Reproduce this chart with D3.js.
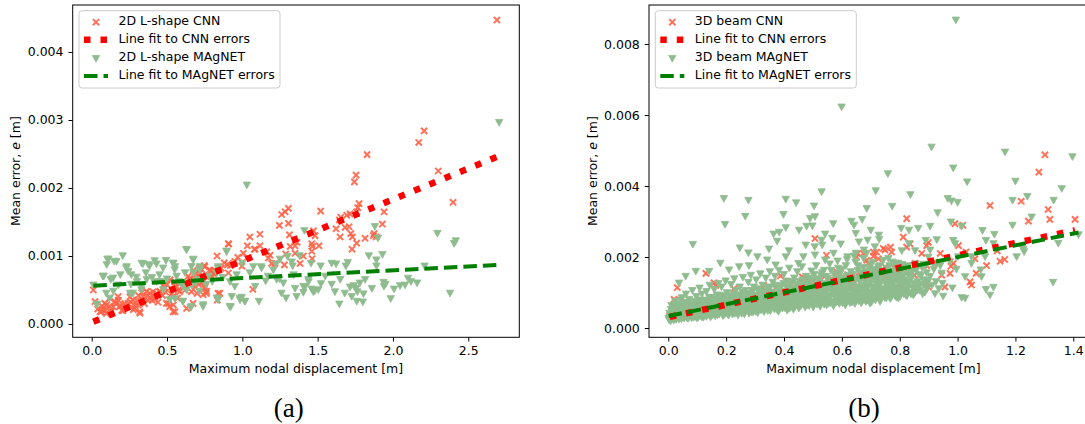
<!DOCTYPE html>
<html><head><meta charset="utf-8">
<script src="https://cdn.jsdelivr.net/npm/d3@7"></script>
<style>
body{margin:0;background:#fff;}
text{font-family:"DejaVu Sans",sans-serif;}
</style></head><body>
<svg id="c" width="1085" height="424"></svg>
<script>
// ---------------- DATA ----------------
// each point: [maximum nodal displacement (m), mean error (mm, i.e. x 1e-3 m)]
const lshapeCNN = [
[0.011,0.50],[0.022,0.33],[0.055,0.18],[0.077,0.21],[0.10,0.28],[0.12,0.38],[0.144,0.25],[0.177,0.35],[0.20,0.20],[0.22,0.30],
[0.254,0.40],[0.277,0.21],[0.30,0.35],[0.32,0.16],[0.332,0.46],[0.365,0.48],[0.387,0.38],[0.42,0.40],[0.453,0.48],[0.476,0.57],
[0.51,0.30],[0.52,0.65],[0.542,0.28],[0.553,0.18],[0.575,0.50],[0.608,0.55],[0.63,0.23],[0.653,0.65],[0.675,0.79],[0.686,0.55],
[0.70,0.45],[0.72,0.75],[0.763,0.48],
[0.064,0.18],[0.097,0.157],[0.086,0.304],[0.119,0.255],[0.153,0.328],[0.175,0.402],[0.186,0.255],[0.208,0.196],[0.241,0.304],
[0.274,0.353],[0.285,0.23],[0.319,0.18],[0.308,0.279],[0.341,0.402],[0.374,0.353],[0.385,0.451],[0.407,0.475],[0.418,0.363],
[0.451,0.475],[0.485,0.525],[0.496,0.304],[0.518,0.255],[0.540,0.18],[0.540,0.402],[0.562,0.549],[0.584,0.475],[0.617,0.598],
[0.651,0.672],[0.662,0.475],[0.673,0.304],[0.695,0.745],[0.717,0.672],[0.750,0.525],[0.761,0.451],[0.750,0.843],[0.783,0.794],
[0.832,1.0],[0.839,0.451],[0.910,1.176],
[0.04,0.22],[0.07,0.26],[0.09,0.20],[0.13,0.19],[0.16,0.30],[0.19,0.27],[0.23,0.25],[0.26,0.32],[0.29,0.27],[0.31,0.42],
[0.35,0.30],[0.37,0.42],[0.40,0.35],[0.43,0.45],[0.44,0.32],[0.47,0.42],[0.49,0.47],[0.50,0.58],[0.53,0.44],[0.55,0.62],
[0.57,0.38],[0.59,0.60],[0.62,0.50],[0.64,0.70],[0.66,0.60],[0.69,0.68],[0.71,0.58],[0.73,0.80],[0.74,0.62],[0.77,0.70],
[0.79,0.78],[0.81,0.74],[0.86,0.82],[0.88,0.90],[0.92,0.86],[0.95,0.92],[0.97,0.98],
[0.907,1.18],[0.90,0.87],[0.94,0.89],[0.85,0.45],[0.834,0.35],[0.748,0.86],[0.715,0.82],[0.754,0.55],[0.74,0.43],[0.907,0.75],
[0.81,0.79],[0.80,0.69],[1.07,0.51],[0.998,0.85],[1.007,1.04],[1.03,0.97],[1.033,1.15],[1.05,1.28],[1.084,1.10],[1.117,1.15],[1.117,1.32],
[2.207,2.84],[2.171,2.67],[1.828,2.49],[2.301,2.25],[1.755,2.19],[1.744,2.09],[2.399,1.79],[1.775,1.77],[1.766,1.71],[1.52,1.66],
[1.306,1.70],[1.284,1.65],[1.261,1.61],[1.246,1.45],[1.306,1.48],[1.715,1.62],[1.693,1.60],[1.759,1.65],[1.941,1.65],[1.653,1.57],
[1.644,1.53],[1.682,1.42],[1.709,1.43],[1.622,1.40],[1.72,1.33],[1.731,1.28],[1.759,1.19],[1.728,1.10],[1.649,1.28],[1.815,1.26],
[1.875,1.33],[1.888,1.28],[1.87,1.30],[1.929,1.47],[1.313,1.31],[1.483,1.30],[1.472,1.37],[1.405,1.0],[1.509,1.15],[1.461,1.18],
[1.465,1.14],[1.461,1.07],[1.463,0.96],[1.350,1.15],[1.363,1.20],[1.318,1.14],[1.08,1.10],[1.184,1.01],[1.162,1.06],[1.195,0.89],
[1.173,0.97],[1.288,1.03],[1.350,1.04],[1.279,0.87],[1.383,0.89],[1.217,0.89],[2.69,4.47]
];
const lshapeMAgNET = [
[2.705,2.96],[2.295,1.33],[2.417,1.22],[2.406,1.18],[2.379,0.45],[2.21,0.85],[2.12,0.62],[2.10,0.67],[2.047,0.56],[2.007,0.51],
[1.985,0.37],[1.937,0.61],[1.94,0.55],[1.93,1.02],[1.89,0.94],[1.89,0.85],[1.84,1.0],[1.88,1.43],[1.90,1.26],[1.86,0.52],
[1.815,0.65],[1.804,0.44],[1.764,0.47],[1.755,0.52],[1.726,0.40],[1.76,0.33],[1.80,0.32],[1.74,0.56],[1.715,0.54],[1.687,0.85],
[1.68,0.45],[1.644,0.29],[1.615,0.47],[1.622,0.88],[1.593,0.89],[1.593,0.58],[1.522,0.59],[1.504,0.50],[1.471,0.47],[1.46,0.51],
[1.438,0.65],[1.405,0.46],[1.416,0.54],[1.456,0.89],[1.412,1.37],[1.36,0.40],[1.328,0.91],[1.334,0.85],[1.30,0.99],[1.29,0.38],
[1.272,0.60],[1.246,0.66],[1.224,0.88],[1.155,0.63],[1.11,0.33],[1.124,0.84],[1.085,0.55],
[0.996,0.39],[1.018,0.33],[0.985,0.35],[0.923,0.25],[0.93,0.40],[1.0,0.89],[0.83,0.38],[0.896,1.06],[0.84,0.84],[0.962,0.72],
[0.74,0.28],[0.657,0.24],[0.715,0.48],[0.675,0.95],[0.63,1.09],[0.542,0.89],[0.553,0.84],[0.493,0.93],[0.43,0.88],[0.376,0.87],
[0.332,0.89],[0.365,0.65],[0.30,0.62],[0.232,0.84],[0.243,0.77],[0.206,1.0],[0.148,0.92],[0.11,0.95],[0.10,0.87],[0.073,0.70],
[0.011,0.57],[0.033,0.29],[0.126,0.65],[0.177,0.57],[0.144,0.48],[0.254,0.45],[0.332,0.55],[0.43,0.62],[0.476,0.50],[0.553,0.37],
[0.604,0.33],[0.63,0.50],[0.664,0.57],[0.564,0.70],[0.62,0.75],[0.675,0.75],[0.708,0.65],[0.774,0.70],[0.719,0.84],[0.83,0.75],
[0.918,0.62],[1.073,0.84],[1.128,0.82],[1.206,0.79],[1.228,0.65],[1.26,0.45],[1.35,0.52],[1.405,0.55],[1.44,0.62],[1.48,0.48],[1.34,0.72],
[0.104,0.951],[0.164,0.917],[0.08,0.70],[0.142,0.672],[0.23,0.82],[0.263,0.72],[0.297,0.686],[0.34,0.882],[0.385,0.853],[0.418,0.926],
[0.474,0.82],[0.54,0.89],[0.551,0.794],[0.629,1.09],[0.673,0.94],[0.662,0.843],[0.894,1.07],[0.839,0.82],[1.030,2.04],[0.035,0.28],
[0.119,0.377],[0.097,0.45],[0.274,0.45],[0.33,0.50],[0.518,0.353],[0.606,0.33],[0.662,0.255],[0.739,0.255],[0.839,0.353],[0.916,0.255],
[0.983,0.377],[1.016,0.33],[0.463,0.623],[0.606,0.549],[0.717,0.794],
[0.19,0.72],[0.26,0.58],[0.36,0.75],[0.40,0.68],[0.45,0.72],[0.50,0.66],[0.58,0.62],[0.69,0.60],[0.76,0.58],[0.80,0.62],
[0.87,0.68],[0.95,0.55],[1.05,0.75],[1.17,0.70],[1.25,0.95],[1.38,1.0],[1.52,0.85],[1.55,0.70],[1.65,0.65],[1.70,0.90],
[1.78,0.60],[1.95,0.58],[2.08,0.57],[2.16,0.60]
];
const beamCNN = [
[0.005,0.35],[0.012,0.45],[0.02,0.81],[0.031,1.14],[0.025,0.40],[0.04,0.52],[0.058,0.69],[0.05,0.38],[0.07,0.48],[0.085,0.62],
[0.1,0.55],[0.13,1.54],[0.158,1.27],[0.129,0.72],[0.15,0.60],[0.164,1.2],[0.18,0.85],[0.2,0.70],[0.227,1.11],[0.22,0.78],
[0.25,0.90],[0.27,0.75],[0.29,1.05],[0.31,0.88],[0.33,1.20],[0.35,0.98],[0.37,1.12],[0.388,1.47],[0.40,1.05],[0.42,1.25],
[0.432,1.30],[0.44,1.10],[0.463,1.44],[0.478,1.35],[0.48,1.18],[0.50,1.30],[0.507,2.52],[0.52,1.22],[0.54,1.45],[0.547,2.05],
[0.56,1.35],[0.57,1.35],[0.582,1.58],[0.588,1.44],[0.6,1.28],[0.61,1.40],[0.616,1.25],[0.62,1.50],[0.63,1.32],[0.651,2.0],
[0.654,2.1],[0.662,1.54],[0.674,2.1],[0.686,1.91],[0.709,2.14],[0.743,2.24],[0.768,2.28],[0.64,1.18],[0.66,1.45],[0.68,1.30],
[0.70,1.55],[0.72,1.40],[0.74,1.62],[0.76,1.48],[0.78,1.70],[0.80,1.58],
[1.302,4.88],[1.281,4.39],[1.112,3.45],[1.22,3.57],[1.313,3.34],[1.319,3.06],[1.406,3.06],[1.245,3.01],[0.824,3.08],[0.991,2.94],
[1.018,2.89],[0.812,2.56],[0.824,2.28],[0.836,2.37],[0.899,2.41],[0.893,2.32],[0.749,2.2],[0.772,2.14],[0.72,2.14],[0.709,2.02],
[0.726,1.95],[0.876,2.1],[0.94,2.1],[1.003,2.32],[1.06,1.95],[1.1,1.76],[1.147,1.88],[1.163,1.93],[1.137,2.17],[1.029,2.14],
[0.977,1.74],[0.945,1.49],[0.974,1.54],[0.899,1.16],[0.893,1.27],[0.956,1.16],[1.043,1.3],[1.048,1.21],[1.064,1.54],[0.85,1.49],
[0.801,1.16],[0.804,1.44],[0.772,1.54],[0.76,1.44],[0.726,1.54],[0.824,1.72],[0.749,1.72],[0.789,1.82],[0.853,1.82],[0.691,1.82],
[0.686,1.54],[0.893,1.76],[0.922,1.86],[0.985,1.82]
];
const beamMAgNET = [
// scattered points above and to the right of the main cloud
[0.994,8.67],[0.599,6.22],[0.91,5.09],[1.164,4.95],[1.397,4.82],[0.985,4.50],[0.759,4.34],[1.033,4.11],[1.20,4.13],[1.36,3.92],
[0.717,3.86],[0.53,3.83],[0.837,3.75],[0.192,3.64],[0.277,3.59],[0.406,3.62],[0.442,3.52],[0.504,3.43],[0.686,3.36],[0.774,3.42],
[1.19,3.59],[1.241,3.70],[0.966,3.64],[0.979,3.57],[1.0,3.53],[1.332,3.59],[0.266,3.14],[0.196,2.91],[0.398,3.19],[0.507,3.13],
[0.49,3.08],[0.931,3.24],[1.256,3.12],[0.406,2.82],[0.383,2.69],[0.478,2.86],[0.498,2.87],[0.452,2.75],[0.57,2.93],[0.633,3.0],
[0.642,2.89],[0.67,3.05],[0.648,2.66],[0.542,2.64],[0.53,2.47],[0.364,2.64],[0.376,2.44],[0.085,2.35],[0.247,2.25],[0.277,2.11],
[0.348,2.22],[0.417,2.17],[0.475,2.33],[0.506,2.28],[0.532,2.33],[0.567,2.52],[0.596,2.36],[0.659,2.42],[0.977,2.98],[1.014,2.86],
[1.086,2.74],[1.127,2.63],[1.19,2.89],[0.70,2.75],[0.728,2.61],[0.729,2.49],[0.805,2.80],[0.832,2.75],[0.864,2.80],[0.905,2.86],
[0.689,2.47],[1.227,2.21],[1.23,2.14],[1.348,2.38],[0.89,2.46],[0.928,2.48],[0.985,2.46],[0.991,2.37],[1.098,2.46],[1.124,2.37],
[1.33,1.28],[1.124,1.14],[1.112,0.92],[1.098,1.08],[1.026,0.83],[1.014,0.85],[0.982,1.12],[0.95,0.89],[0.922,0.96],[0.888,1.34],
[0.864,1.15],[0.847,0.92],[0.818,1.02],[0.795,0.83],[0.778,1.02],[0.749,0.88],[0.732,0.74],[0.714,0.88],[0.697,0.69],[0.68,0.79],
[0.945,1.54],[0.996,1.65],[1.048,1.81],[1.08,1.63],[1.083,1.44],[1.026,1.44],[0.974,1.86],[0.922,1.72],[0.882,1.79],[0.899,1.99],
[0.841,1.54],[0.795,1.63],[0.761,1.54],[0.778,1.82],[0.726,1.72],[0.761,1.95],[0.807,2.17],[0.853,2.17],[0.905,2.19],[0.832,2.37],
[0.686,2.10],[0.714,2.28],[0.703,1.63],[1.048,2.00],[1.002,2.00],[1.095,2.0],[1.204,2.0],[1.418,2.62],
[0.18,1.82],[0.21,1.63],[0.279,1.75],[0.308,2.0],[0.342,1.91],[0.371,1.77],[0.406,2.0],[0.45,1.81],[0.467,2.0],[0.507,2.05],
[0.542,1.91],[0.571,2.1],[0.619,2.0],[0.648,2.1],[0.676,2.19],[0.06,1.45],[0.095,1.59],[0.141,1.59],[0.037,1.26],[0.245,1.72],
// dense cloud
[0.003,0.22],[0.006,0.30],[0.004,0.41],[0.009,0.52],[0.012,0.25],[0.015,0.36],[0.011,0.63],[0.018,0.47],[0.021,0.28],[0.024,0.74],[0.019,0.21],
[0.028,0.33],[0.031,0.55],[0.034,0.42],[0.037,0.24],[0.041,0.66],[0.044,0.31],[0.047,0.85],[0.049,0.48],[0.052,0.38],[0.055,0.27],[0.053,0.72],
[0.058,0.58],[0.061,0.95],[0.064,0.34],[0.067,0.45],[0.069,0.26],[0.072,0.80],[0.075,0.52],[0.078,0.39],[0.081,0.66],[0.083,1.05],[0.086,0.29],[0.088,0.47],
[0.091,0.58],[0.094,0.36],[0.097,0.88],[0.099,0.27],[0.102,0.71],[0.105,0.44],[0.108,1.12],[0.111,0.52],[0.113,0.33],[0.116,0.95],[0.118,0.62],
[0.121,0.29],[0.124,0.41],[0.127,0.78],[0.129,0.55],[0.132,1.02],[0.135,0.35],[0.138,0.66],[0.141,0.48],[0.143,1.20],[0.146,0.30],[0.148,0.86],
[0.151,0.58],[0.154,0.42],[0.157,0.72],[0.159,1.08],[0.162,0.33],[0.165,0.50],[0.168,0.92],[0.171,0.64],[0.173,1.25],[0.176,0.38],[0.178,0.79],
[0.181,0.47],[0.184,1.15],[0.187,0.56],[0.189,0.34],[0.192,0.85],[0.195,0.68],[0.198,1.32],[0.201,0.42],[0.203,0.99],[0.206,0.60],[0.208,0.35],
[0.211,0.76],[0.214,0.50],[0.217,1.22],[0.219,0.90],[0.222,0.38],[0.225,0.64],[0.228,1.38],[0.231,0.55],[0.233,1.05],[0.236,0.44],[0.238,0.82],
[0.241,0.36],[0.244,0.70],[0.247,1.15],[0.249,0.58],[0.252,0.93],[0.255,0.47],[0.258,1.42],[0.261,0.78],[0.263,0.39],[0.266,1.05],[0.268,0.62],
[0.271,0.86],[0.274,0.52],[0.277,1.28],[0.279,0.41],[0.282,0.72],[0.285,1.48],[0.288,0.98],[0.291,0.60],[0.293,0.44],[0.296,1.15],[0.298,0.80],
[0.301,0.55],[0.304,1.35],[0.307,0.68],[0.309,0.42],[0.312,1.02],[0.315,0.88],[0.318,1.52],[0.321,0.50],[0.323,0.75],[0.326,1.20],[0.328,0.62],
[0.331,0.45],[0.334,0.95],[0.337,1.40],[0.339,0.70],[0.342,0.56],[0.345,1.12],[0.348,0.84],[0.351,1.58],[0.353,0.48],[0.356,1.00],[0.358,0.66],
[0.361,1.28],[0.364,0.78],[0.367,0.52],[0.369,1.45],[0.372,0.92],[0.375,0.62],[0.378,1.08],[0.381,0.46],[0.383,1.62],[0.386,0.85],[0.388,0.71],
[0.391,1.18],[0.394,0.55],[0.397,0.98],[0.399,1.50],[0.402,0.66],[0.405,0.80],[0.408,1.32],[0.411,0.49],[0.413,1.08],[0.416,0.92],[0.418,1.68],
[0.421,0.60],[0.424,1.22],[0.427,0.75],[0.429,1.02],[0.432,0.52],[0.435,1.40],[0.438,0.88],[0.441,1.12],[0.443,0.66],[0.446,1.58],[0.448,0.95],
[0.451,0.55],[0.454,1.30],[0.457,0.78],[0.459,1.05],[0.462,1.72],[0.465,0.68],[0.468,1.18],[0.471,0.90],[0.473,0.58],[0.476,1.45],[0.478,1.00],
[0.481,0.72],[0.484,1.25],[0.487,0.62],[0.489,1.10],[0.492,0.85],[0.495,1.60],[0.498,0.96],[0.501,0.58],[0.503,1.35],[0.506,0.78],[0.508,1.15],
[0.511,1.75],[0.514,0.66],[0.517,1.02],[0.519,0.88],[0.522,1.28],[0.525,0.60],[0.528,1.48],[0.531,0.95],[0.533,1.12],[0.536,0.74],[0.538,1.62],
[0.541,0.84],[0.544,1.22],[0.547,0.64],[0.549,1.05],[0.552,1.40],[0.555,0.92],[0.558,1.80],[0.561,0.70],[0.563,1.15],[0.566,1.30],[0.568,0.98],
[0.571,0.62],[0.574,1.52],[0.577,1.08],[0.579,0.82],[0.582,1.25],[0.585,1.88],[0.588,0.95],[0.591,0.68],[0.593,1.38],[0.596,1.12],[0.598,0.86],
[0.601,1.65],[0.604,0.75],[0.607,1.20],[0.609,1.00],[0.612,0.64],[0.615,1.45],[0.618,1.92],[0.621,0.90],[0.623,1.30],[0.626,1.10],[0.628,0.70],
[0.631,1.58],[0.634,0.82],[0.637,1.22],[0.639,1.02],[0.642,2.02],[0.645,0.68],[0.648,1.40],[0.651,0.94],[0.653,1.15],[0.656,1.75],[0.658,0.76],
[0.661,1.30],[0.664,1.05],[0.667,0.70],[0.669,1.55],[0.672,0.88],[0.675,1.95],[0.678,1.20],[0.681,0.98],[0.683,0.74],[0.686,1.42],[0.688,1.12],
[0.691,0.84],[0.694,1.68],[0.697,1.00],[0.699,1.28],[0.702,0.72],[0.705,1.85],[0.708,1.15],[0.711,0.92],[0.713,1.48],[0.716,0.78],[0.718,1.08],
[0.721,1.35],[0.724,0.86],[0.727,1.62],[0.729,1.20],[0.732,0.98],[0.735,0.80],[0.738,1.45],[0.741,1.10],[0.743,1.90],[0.746,0.90],[0.748,1.28],
[0.751,1.05],[0.754,0.84],[0.757,1.55],[0.759,1.22],[0.762,0.95],[0.765,1.75],[0.768,1.38],[0.771,0.86],[0.773,1.12],[0.776,1.60],[0.778,1.00],
[0.781,1.30],[0.784,0.90],[0.787,1.48],[0.789,1.15],[0.792,0.98],[0.795,1.82],[0.798,1.25],[0.801,0.88],[0.803,1.40],[0.806,1.05],[0.808,1.65],
[0.811,1.20],[0.814,0.95],[0.817,1.35],[0.819,1.70],[0.822,1.08],[0.825,0.90],[0.828,1.52],[0.831,1.25],[0.833,1.00],
[0.841,1.40],[0.846,1.12],[0.852,0.98],[0.857,1.62],[0.862,1.30],[0.868,1.05],[0.874,1.48],[0.879,0.95],[0.884,1.20],[0.89,1.75],[0.895,1.10],
// dense core near the fitted line
[0.001,0.27],[0.007,0.36],[0.013,0.45],[0.016,0.56],[0.008,0.19],[0.023,0.34],[0.026,0.52],[0.027,0.23],[0.02,0.64],
[0.033,0.29],[0.036,0.46],[0.039,0.60],[0.042,0.37],[0.045,0.25],[0.048,0.55],[0.051,0.30],[0.054,0.44],[0.057,0.64],[0.043,0.78],
[0.062,0.39],[0.065,0.27],[0.068,0.56],[0.071,0.33],[0.074,0.69],[0.077,0.45],[0.080,0.28],[0.084,0.58],[0.087,0.38],[0.089,0.75],
[0.092,0.31],[0.095,0.48],[0.098,0.64],[0.101,0.40],[0.104,0.30],[0.107,0.58],[0.110,0.78],[0.112,0.42],[0.115,0.31],[0.119,0.50],[0.117,0.70],
[0.122,0.36],[0.125,0.60],[0.128,0.46],[0.131,0.32],[0.134,0.72],[0.137,0.52],[0.140,0.40],[0.142,0.85],[0.145,0.62],[0.149,0.45],
[0.152,0.35],[0.155,0.66],[0.158,0.52],[0.161,0.81],[0.164,0.42],[0.167,0.60],[0.170,0.36],[0.172,0.72],[0.175,0.50],[0.179,0.92],
[0.182,0.62],[0.185,0.40],[0.188,0.75],[0.191,0.52],[0.194,0.37],[0.197,0.90],[0.200,0.58],[0.202,0.46],[0.205,0.78],[0.209,0.66],
[0.212,0.42],[0.215,0.86],[0.218,0.60],[0.221,0.72],[0.224,0.48],[0.227,0.95],[0.230,0.40],[0.232,0.66],[0.235,0.82],[0.239,0.54],
[0.242,0.45],[0.245,0.88],[0.248,0.64],[0.251,0.75],[0.254,0.40],[0.257,1.00],[0.260,0.55],[0.262,0.70],[0.265,0.85],[0.269,0.48],
[0.272,0.62],[0.275,0.95],[0.278,0.76],[0.281,0.50],[0.284,0.88],[0.287,0.44],[0.290,1.05],[0.292,0.68],[0.295,0.55],[0.299,0.92],
[0.302,0.46],[0.305,0.80],[0.308,1.10],[0.311,0.60],[0.314,0.72],[0.317,0.95],[0.320,0.52],[0.322,0.86],[0.325,1.02],[0.329,0.70],
[0.332,0.58],[0.335,0.82],[0.338,1.05],[0.341,0.64],[0.344,0.48],[0.347,0.96],[0.350,0.74],[0.352,1.15],[0.355,0.56],[0.359,0.88],
[0.362,0.68],[0.365,1.00],[0.368,0.58],[0.371,1.20],[0.374,0.80],[0.377,0.50],[0.380,0.95],[0.382,0.70],[0.385,1.10],[0.389,0.60],
[0.392,0.88],[0.395,0.72],[0.398,1.25],[0.401,0.56],[0.404,1.02],[0.407,0.64],[0.410,0.90],[0.412,1.15],[0.415,0.76],[0.419,0.54],
[0.422,0.95],[0.425,0.68],[0.428,1.30],[0.431,0.84],[0.434,1.08],[0.437,0.58],[0.440,0.98],[0.442,0.76],[0.445,1.22],[0.449,0.64],
[0.452,0.90],[0.455,1.12],[0.458,0.62],[0.461,0.82],[0.464,1.35],[0.467,0.95],[0.470,0.72],[0.472,1.08],[0.475,0.85],[0.479,1.25],
[0.482,0.64],[0.485,0.92],[0.488,1.40],[0.491,0.78],[0.494,1.02],[0.497,1.20],[0.500,0.68],[0.502,0.88],[0.505,1.50],[0.509,1.05],
[0.512,0.76],[0.515,1.18],[0.518,1.38],[0.521,0.70],[0.524,0.95],[0.527,1.08],[0.530,0.82],[0.532,1.55],[0.535,1.25],[0.539,0.66],
[0.542,1.00],[0.545,1.45],[0.548,0.78],[0.551,1.15],[0.554,0.68],[0.557,1.32],[0.560,0.88],[0.562,1.62],[0.565,1.05],[0.569,0.75],
[0.572,1.20],[0.575,0.90],[0.578,1.42],[0.581,0.72],[0.584,1.02],[0.587,1.68],[0.590,0.80],[0.592,1.30],[0.595,1.55],[0.599,0.95],
[0.602,0.70],[0.605,1.35],[0.608,1.10],[0.611,0.85],[0.614,1.75],[0.617,1.05],[0.620,0.76],[0.622,1.48],[0.625,1.22],[0.629,0.92],
[0.632,1.12],[0.635,0.72],[0.638,1.50],[0.641,0.90],[0.644,1.30],[0.647,1.85],[0.650,0.80],[0.652,1.05],[0.655,1.62],[0.659,0.96],
[0.662,0.82],[0.665,1.40],[0.668,1.15],[0.671,0.76],[0.674,1.70],[0.677,1.02],[0.680,1.30],[0.682,0.88],[0.685,1.58],[0.689,0.78],
[0.692,1.20],[0.695,0.95],[0.698,1.45],[0.701,1.78],[0.704,0.82],[0.707,1.35],[0.710,1.05],[0.712,1.65],[0.715,0.86],[0.719,1.25],
[0.722,0.95],[0.725,1.50],[0.728,1.08],[0.731,1.75],[0.734,0.88],[0.737,1.30],[0.740,1.58],[0.742,1.00],[0.745,1.40],[0.749,0.84],
[0.752,1.30],[0.755,1.68],[0.758,0.92],[0.761,1.45],[0.764,1.10],[0.767,0.82],[0.770,1.55],[0.772,1.25],[0.775,1.85],[0.779,0.96],
[0.782,1.12],[0.785,1.60],[0.788,0.86],[0.791,1.35],[0.794,1.72],[0.797,1.05],[0.800,1.50],[0.802,0.95],[0.805,1.28],[0.809,1.78],
[0.812,1.45],[0.815,1.08],[0.818,1.60],[0.821,0.92],[0.824,1.30],[0.827,1.75],[0.830,1.15],[0.836,1.45],[0.839,0.95],
[0.844,1.62],[0.849,1.25],[0.855,1.80],[0.86,1.05],[0.866,1.50],[0.871,1.22],[0.877,1.70],[0.882,1.35],[0.887,1.00],[0.893,1.55],[0.898,1.30],
[0.905,1.45],[0.912,1.20],[0.918,1.65],[0.925,1.30],[0.935,1.10],[0.94,1.75],[0.948,1.25]
];
// linear fits: [slope (mm per m), intercept (mm)]
const lshapeFitCNN = [0.905, 0.023];
const lshapeFitMAgNET = [0.113, 0.563];
const beamFitCNN = [1.74, 0.306];
const beamFitMAgNET = [1.66, 0.337];
// tick values
const lshapeXTicks = [0, 0.5, 1.0, 1.5, 2.0, 2.5];
const lshapeYTicks = [0, 0.001, 0.002, 0.003, 0.004];
const beamXTicks = [0, 0.2, 0.4, 0.6, 0.8, 1.0, 1.2, 1.4];
const beamYTicks = [0, 0.002, 0.004, 0.006, 0.008];
// legend labels
const lshapeLabels = ["2D L-shape CNN", "Line fit to CNN errors", "2D L-shape MAgNET", "Line fit to MAgNET errors"];
const beamLabels = ["3D beam CNN", "Line fit to CNN errors", "3D beam MAgNET", "Line fit to MAgNET errors"];
const captions = ["(a)", "(b)"];

// ---------------- DRAWING ----------------
const FS = 12.5;
const svg = d3.select("#c");
svg.append("rect").attr("width", 1085).attr("height", 424).attr("fill", "#fff");

const CNN_COLOR = "#ff6347", MAG_COLOR = "#8fbc8f";
const xPath = "M-3.1,-3.1L3.1,3.1M-3.1,3.1L3.1,-3.1";
const vPath = "M-3.7,-3.2L3.7,-3.2L0,3.5Z";

function panel(cfg) {
  const g = svg.append("g");
  const x = d3.scaleLinear().domain(cfg.xDomain).range([cfg.left, cfg.right]);
  const y = d3.scaleLinear().domain(cfg.yDomain).range([cfg.bottom, cfg.top]);
  const clipId = "clip" + cfg.id;
  svg.append("clipPath").attr("id", clipId).append("rect")
    .attr("x", cfg.left).attr("y", cfg.top).attr("width", cfg.right - cfg.left).attr("height", cfg.bottom - cfg.top);
  const plot = g.append("g").attr("clip-path", `url(#${clipId})`);

  plot.append("g").selectAll("path").data(cfg.cnn).join("path")
    .attr("d", xPath).attr("transform", d => `translate(${x(d[0])},${y(d[1] / 1000)})`)
    .attr("fill", "none").attr("stroke", CNN_COLOR).attr("stroke-width", 2).attr("stroke-opacity", 0.9);
  plot.append("g").selectAll("path").data(cfg.mag).join("path")
    .attr("d", vPath).attr("transform", d => `translate(${x(d[0])},${y(d[1] / 1000)})`)
    .attr("fill", MAG_COLOR).attr("stroke", MAG_COLOR).attr("stroke-width", 0.8);

  const fitLine = (fit, data) => {
    const ext = d3.extent(data, d => d[0]);
    return ext.map(v => [v, (fit[0] * v + fit[1]) / 1000]);
  };
  const line = d3.line().x(d => x(d[0])).y(d => y(d[1]));
  plot.append("path").datum(fitLine(cfg.fitCNN, cfg.cnn)).attr("d", line)
    .attr("fill", "none").attr("stroke", "#ff0000").attr("stroke-width", 6.5).attr("stroke-dasharray", "6.5 10");
  plot.append("path").datum(fitLine(cfg.fitMAG, cfg.mag)).attr("d", line)
    .attr("fill", "none").attr("stroke", "#008000").attr("stroke-width", 4).attr("stroke-dasharray", "13.5 6");

  // frame
  g.append("rect").attr("x", cfg.left).attr("y", cfg.top).attr("width", cfg.right - cfg.left).attr("height", cfg.bottom - cfg.top)
    .attr("fill", "none").attr("stroke", "#000").attr("stroke-width", 1);

  // axes
  const xa = g.append("g").attr("transform", `translate(0,${cfg.bottom})`)
    .call(d3.axisBottom(x).tickValues(cfg.xTicks).tickFormat(d3.format(".1f")).tickSize(4.2).tickPadding(4.3));
  const ya = g.append("g").attr("transform", `translate(${cfg.left},0)`)
    .call(d3.axisLeft(y).tickValues(cfg.yTicks).tickFormat(d3.format(".3f")).tickSize(4.2).tickPadding(5));
  [xa, ya].forEach(a => {
    a.select(".domain").remove();
    a.attr("font-family", null).attr("font-size", null);
    a.selectAll("text").attr("font-size", FS).attr("fill", "#000").style("font-family", "DejaVu Sans");
    a.selectAll("line").attr("stroke", "#000").attr("stroke-width", 1);
  });

  g.append("text").attr("x", (cfg.left + cfg.right) / 2).attr("y", 372.8).attr("text-anchor", "middle")
    .attr("font-size", FS).text("Maximum nodal displacement [m]");
  const yl = g.append("text").attr("transform", `translate(${cfg.ylabelX},${(cfg.top + cfg.bottom) / 2}) rotate(-90)`)
    .attr("text-anchor", "middle").attr("font-size", FS);
  yl.append("tspan").text("Mean error, ");
  yl.append("tspan").attr("font-style", "italic").text("e");
  yl.append("tspan").text(" [m]");

  // legend
  const lx = cfg.left + 6.3, ly = cfg.top + 5.7;
  const lg = g.append("g");
  lg.append("rect").attr("x", lx).attr("y", ly).attr("width", 201).attr("height", 77.3).attr("rx", 3)
    .attr("fill", "#fff").attr("fill-opacity", 0.8).attr("stroke", "#cccccc").attr("stroke-width", 1);
  const items = lg.selectAll("g.item").data(cfg.labels).join("g").attr("class", "item")
    .attr("transform", (d, i) => `translate(0,${ly + 14.4 + i * 18.1})`);
  items.append("text").attr("x", lx + 39.5).attr("y", 0).attr("font-size", FS).text(d => d);
  const hx0 = lx + 5, hx1 = lx + 29, hy = -3.5;
  items.each(function (d, i) {
    const s = d3.select(this);
    if (i === 0) s.append("path").attr("d", xPath).attr("transform", `translate(${(hx0 + hx1) / 2},${hy + 0.6})`)
      .attr("fill", "none").attr("stroke", CNN_COLOR).attr("stroke-width", 2).attr("stroke-opacity", 0.9);
    if (i === 1) s.append("line").attr("x1", hx0).attr("x2", hx1).attr("y1", hy).attr("y2", hy)
      .attr("stroke", "#ff0000").attr("stroke-width", 6.5).attr("stroke-dasharray", "6.5 10");
    if (i === 2) s.append("path").attr("d", vPath).attr("transform", `translate(${(hx0 + hx1) / 2},${hy + 0.8})`)
      .attr("fill", MAG_COLOR).attr("stroke", MAG_COLOR).attr("stroke-width", 0.8);
    if (i === 3) s.append("line").attr("x1", hx0).attr("x2", hx1).attr("y1", hy).attr("y2", hy)
      .attr("stroke", "#008000").attr("stroke-width", 4).attr("stroke-dasharray", "13.5 6");
  });

  svg.append("text").attr("x", cfg.capX).attr("y", 417).attr("text-anchor", "middle")
    .style("font-family", "'Liberation Serif', serif").attr("font-size", 27).text(cfg.caption);
}

panel({
  id: "a", left: 72.7, right: 519.3, top: 5, bottom: 337.3,
  xDomain: [-0.1261, 2.8386], yDomain: [-0.0001956, 0.004691],
  cnn: lshapeCNN, mag: lshapeMAgNET, fitCNN: lshapeFitCNN, fitMAG: lshapeFitMAgNET,
  xTicks: lshapeXTicks, yTicks: lshapeYTicks, labels: lshapeLabels,
  ylabelX: 20.3, capX: 288.7, caption: captions[0]
});
panel({
  id: "b", left: 649, right: 1097.9, top: 5, bottom: 337.3,
  xDomain: [-0.0667, 1.485], yDomain: [-0.000262, 0.0091],
  cnn: beamCNN, mag: beamMAgNET, fitCNN: beamFitCNN, fitMAG: beamFitMAgNET,
  xTicks: beamXTicks, yTicks: beamYTicks, labels: beamLabels,
  ylabelX: 596.5, capX: 864, caption: captions[1]
});
</script>
</body></html>
